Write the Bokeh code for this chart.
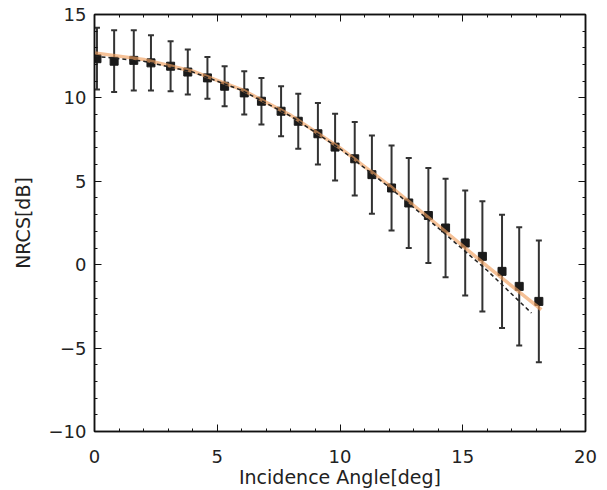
from bokeh.plotting import figure
from bokeh.models import (ColumnDataSource, Whisker, TeeHead, LinearAxis, Range1d,
                          FixedTicker, CustomLabelingPolicy)
from bokeh.embed import file_html
from bokeh.resources import INLINE

# measured points (incidence angle, NRCS mean, half error)
angle = [0.1, 0.8, 1.6, 2.3, 3.1, 3.8, 4.6, 5.3, 6.1, 6.8, 7.6, 8.3, 9.1,
         9.8, 10.6, 11.3, 12.1, 12.8, 13.6, 14.3, 15.1, 15.8, 16.6, 17.3, 18.1]
nrcs = [12.35, 12.2, 12.25, 12.1, 11.9, 11.55, 11.2, 10.7, 10.3, 9.8, 9.2, 8.6, 7.85,
        7.05, 6.35, 5.4, 4.6, 3.7, 2.95, 2.2, 1.3, 0.5, -0.4, -1.3, -2.2]
err = [1.85, 1.85, 1.8, 1.65, 1.5, 1.35, 1.25, 1.2, 1.3, 1.4, 1.5, 1.65, 1.85,
       2.0, 2.2, 2.35, 2.55, 2.7, 2.85, 2.95, 3.15, 3.3, 3.4, 3.55, 3.65]

# fitted curves
fit_x = [0, 2, 4, 6, 8, 10, 12, 14, 16, 18.2]
fit_orange = [12.7, 12.3, 11.6, 10.5, 8.95, 7.0, 4.75, 2.35, -0.1, -2.7]
dash_x = [0, 2, 4, 6, 8, 10, 12, 14, 16, 17.8]
fit_dashed = [12.5, 12.2, 11.55, 10.45, 8.9, 6.95, 4.65, 2.2, -0.35, -2.9]

x_ticks = [0, 5, 10, 15, 20]
y_ticks = [-10, -5, 0, 5, 10, 15]
minor = list(range(-10, 21))

upper = [m + e for m, e in zip(nrcs, err)]
lower = [m - e for m, e in zip(nrcs, err)]
src = ColumnDataSource(dict(x=angle, y=nrcs, upper=upper, lower=lower))

p = figure(frame_width=491, frame_height=417, output_backend="svg", toolbar_location=None,
           x_range=Range1d(0, 20), y_range=Range1d(-10, 15))
p.min_border_left = 94
p.min_border_top = 14
p.min_border_right = 12
p.min_border_bottom = 10
p.background_fill_color = "white"
p.border_fill_color = "white"
p.outline_line_color = "#111111"
p.outline_line_width = 1.5
p.xgrid.visible = False
p.ygrid.visible = False

font = "DejaVu Sans"
for ax, ticks in ((p.xaxis[0], x_ticks), (p.yaxis[0], y_ticks)):
    ax.ticker = FixedTicker(ticks=ticks, minor_ticks=minor)
    ax.major_tick_in = 7
    ax.major_tick_out = 0
    ax.minor_tick_in = 3
    ax.minor_tick_out = 0
    ax.major_tick_line_color = "#111111"
    ax.minor_tick_line_color = "#111111"
    ax.axis_line_color = "#111111"
    ax.axis_line_width = 1.5
    ax.major_label_text_font = font
    ax.major_label_text_font_size = "18px"
    ax.major_label_text_color = "#222222"
    ax.axis_label_text_font = font
    ax.axis_label_text_font_size = "19px"
    ax.axis_label_text_font_style = "normal"
    ax.axis_label_text_color = "#222222"

p.xaxis.axis_label = "Incidence Angle[deg]"
p.yaxis.axis_label = "NRCS[dB]"
p.xaxis.major_label_standoff = 18
p.xaxis.axis_label_standoff = 0
p.yaxis.major_label_standoff = 8
p.yaxis.axis_label_standoff = 12
p.yaxis.major_label_orientation = "horizontal"

hide_all = CustomLabelingPolicy(code="""
    for (const i of Array.from(indices)) { indices.unset(i) }
    return indices
""")

for loc, ticks in (("above", x_ticks), ("right", y_ticks)):
    ax = LinearAxis(ticker=FixedTicker(ticks=ticks, minor_ticks=minor))
    ax.major_label_policy = hide_all
    ax.major_tick_in = 7
    ax.major_tick_out = 0
    ax.minor_tick_in = 3
    ax.minor_tick_out = 0
    ax.major_label_standoff = 0
    ax.major_tick_line_color = "#111111"
    ax.minor_tick_line_color = "#111111"
    ax.axis_line_color = "#111111"
    ax.axis_line_width = 1.5
    p.add_layout(ax, loc)

w = Whisker(source=src, base="x", upper="upper", lower="lower", dimension="height",
            line_color="#333333", line_width=2,
            upper_head=TeeHead(size=6, line_color="#333333", line_width=2),
            lower_head=TeeHead(size=6, line_color="#333333", line_width=2))
p.add_layout(w)

p.scatter("x", "y", source=src, marker="square", size=8, color="#1a1a1a")
p.line(fit_x, fit_orange, line_color="#f0a060", line_width=3.5, line_alpha=0.65)
p.line(dash_x, fit_dashed, line_color="#222222", line_width=1.5, line_dash="4 3")

open("out.html", "w").write(file_html(p, INLINE))
